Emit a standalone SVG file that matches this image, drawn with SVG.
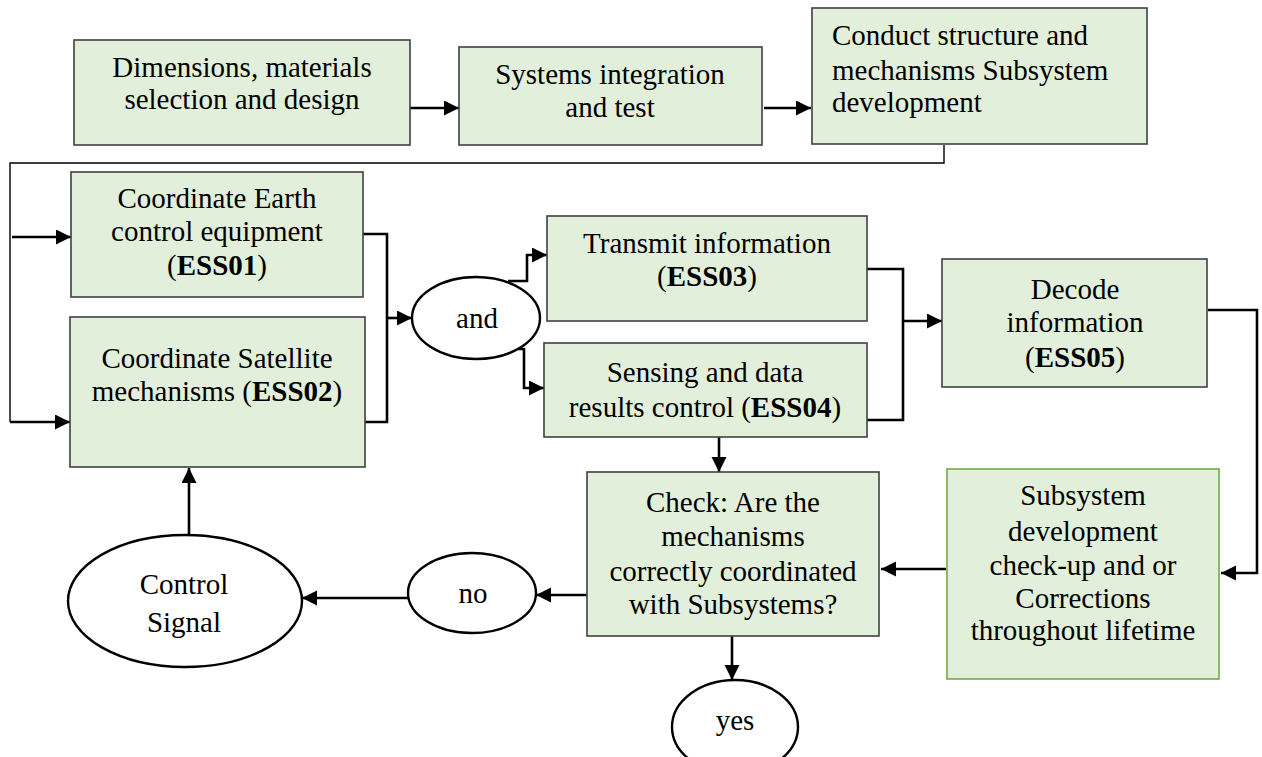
<svg xmlns="http://www.w3.org/2000/svg" width="1262" height="757" viewBox="0 0 1262 757">
<style>
.box{fill:#e2efda;stroke:#404040;stroke-width:1.6}
.box2{fill:#e2efda;stroke:#70ad47;stroke-width:1.6}
.ell{fill:#ffffff;stroke:#000000;stroke-width:2.4}
.c{fill:none;stroke:#000000;stroke-width:2.6}
.thin{fill:none;stroke:#000000;stroke-width:1.4}
text{font-family:"Liberation Serif","Times New Roman",serif;font-size:29px;fill:#000000;text-anchor:middle}
.l{text-anchor:start}
.b{font-weight:bold}
</style>
<defs>
<marker id="ah" markerUnits="userSpaceOnUse" markerWidth="16" markerHeight="16" refX="15" refY="7.5" orient="auto">
<path d="M0,0 L15,7.5 L0,15 z" fill="#000000"/>
</marker>
</defs>
<rect width="1262" height="757" fill="#ffffff"/>

<g id="connectors">
<path class="c" d="M410,108 H459" marker-end="url(#ah)"/>
<path class="c" d="M764,108 H811" marker-end="url(#ah)"/>
<path class="thin" d="M944,145 V163 H10 V422"/>
<path class="c" d="M10,422 H70" marker-end="url(#ah)"/>
<path class="c" d="M12,237 H71" marker-end="url(#ah)"/>
<path class="c" d="M363,234 H387 V422 H365"/>
<path class="c" d="M387,318 H412" marker-end="url(#ah)"/>
<path class="c" d="M508,281 H527 V255 H547" marker-end="url(#ah)"/>
<path class="c" d="M518,349 H524 V388 H544" marker-end="url(#ah)"/>
<path class="c" d="M867,269 H903 V420 H867"/>
<path class="c" d="M903,321 H942" marker-end="url(#ah)"/>
<path class="c" d="M1208,310 H1257 V573 H1221" marker-end="url(#ah)"/>
<path class="c" d="M946,569 H881" marker-end="url(#ah)"/>
<path class="c" d="M719,437 V472" marker-end="url(#ah)"/>
<path class="c" d="M732,636 V680" marker-end="url(#ah)"/>
<path class="c" d="M587,595 H536" marker-end="url(#ah)"/>
<path class="c" d="M408,598 H302" marker-end="url(#ah)"/>
<path class="c" d="M189,535 V468" marker-end="url(#ah)"/>
</g>

<g id="dimensions">
<rect class="box" x="74" y="40" width="336" height="105"/>
<text x="242" y="77">Dimensions, materials</text>
<text x="242" y="109">selection and design</text>
</g>

<g id="systems">
<rect class="box" x="459" y="47" width="303" height="98"/>
<text x="610" y="84">Systems integration</text>
<text x="610" y="117">and test</text>
</g>

<g id="conduct">
<rect class="box" x="812" y="8" width="335" height="136"/>
<text class="l" x="832" y="45">Conduct structure and</text>
<text class="l" x="832" y="80">mechanisms Subsystem</text>
<text class="l" x="832" y="112">development</text>
</g>

<g id="ess01">
<rect class="box" x="71" y="172" width="292" height="125"/>
<text x="217" y="208">Coordinate Earth</text>
<text x="217" y="241">control equipment</text>
<text x="217" y="275">(<tspan class="b">ESS01</tspan>)</text>
</g>

<g id="ess02">
<rect class="box" x="70" y="317" width="295" height="150"/>
<text x="217" y="368">Coordinate Satellite</text>
<text x="217" y="401">mechanisms (<tspan class="b">ESS02</tspan>)</text>
</g>

<g id="and">
<ellipse class="ell" cx="476" cy="318" rx="64" ry="41"/>
<text x="477" y="328">and</text>
</g>

<g id="ess03">
<rect class="box" x="547" y="216" width="320" height="105"/>
<text x="707" y="253">Transmit information</text>
<text x="707" y="286">(<tspan class="b">ESS03</tspan>)</text>
</g>

<g id="ess04">
<rect class="box" x="544" y="343" width="323" height="94"/>
<text x="705" y="382">Sensing and data</text>
<text x="705" y="417">results control (<tspan class="b">ESS04</tspan>)</text>
</g>

<g id="ess05">
<rect class="box" x="942" y="259" width="265" height="128"/>
<text x="1075" y="299">Decode</text>
<text x="1075" y="332">information</text>
<text x="1075" y="367">(<tspan class="b">ESS05</tspan>)</text>
</g>

<g id="subsystem">
<rect class="box2" x="947" y="469" width="272" height="210"/>
<text x="1083" y="505">Subsystem</text>
<text x="1083" y="541">development</text>
<text x="1083" y="575">check-up and or</text>
<text x="1083" y="608">Corrections</text>
<text x="1083" y="640">throughout lifetime</text>
</g>

<g id="check">
<rect class="box" x="587" y="472" width="292" height="164"/>
<text x="733" y="512">Check: Are the</text>
<text x="733" y="546">mechanisms</text>
<text x="733" y="581">correctly coordinated</text>
<text x="733" y="614">with Subsystems?</text>
</g>

<g id="no">
<ellipse class="ell" cx="472" cy="593" rx="64" ry="40"/>
<text x="473" y="603">no</text>
</g>

<g id="yes">
<ellipse class="ell" cx="735" cy="727" rx="63" ry="47"/>
<text x="735" y="730">yes</text>
</g>

<g id="control">
<ellipse class="ell" cx="185" cy="601" rx="117" ry="66"/>
<text x="184" y="594">Control</text>
<text x="184" y="632">Signal</text>
</g>
</svg>
